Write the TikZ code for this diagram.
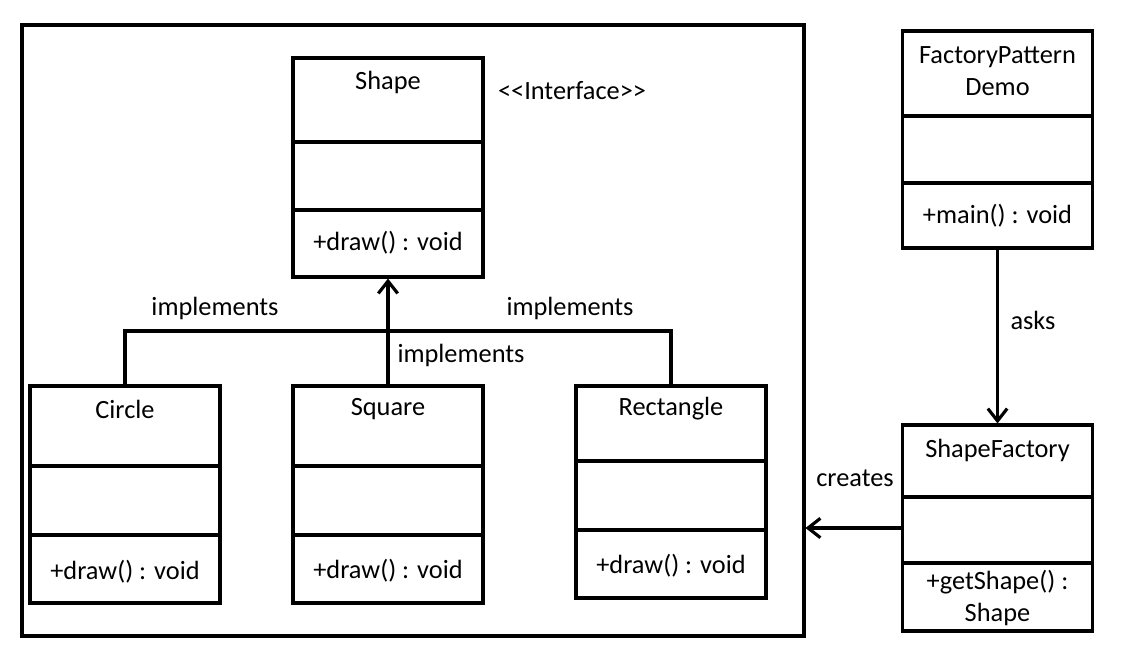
\documentclass[tikz,border=0pt]{standalone}
\usepackage{fontspec}
\setmainfont{Carlito}
\usepackage{tikz}
\usetikzlibrary{arrows.meta, positioning, calc}

\tikzset{
  umlbox/.style={draw, line width=1.8pt, inner sep=0pt, minimum width=3.8cm},
  lbl/.style={inner sep=0pt, font=\fontsize{15}{18}\selectfont},
  link/.style={line width=1.8pt},
  arr/.style={link, -{Straight Barb[length=7pt, width=11pt, line width=1.8pt]}}
}

\begin{document}
\begin{tikzpicture}[x=0.02cm, y=-0.02cm]
  \useasboundingbox (0,0) rectangle (1132,655);

  % outer frame
  \node[draw, line width=1.8pt, minimum width=15.64cm, minimum height=12.22cm] (frame) at (413,330.5) {};

  % classes
  \node[umlbox, minimum height=4.38cm] (shape) at (388,167.5) {};
  \node[umlbox, minimum height=4.34cm] (circ) at (125,494.5) {};
  \node[umlbox, minimum height=4.34cm] (sq) at (388,494.5) {};
  \node[umlbox, minimum height=4.24cm] (rect) at (671,492) {};
  \node[umlbox, minimum height=4.34cm] (demo) at (997.5,139.5) {};
  \node[umlbox, minimum height=4.12cm] (factory) at (997.5,528) {};

  % compartments
  \draw[link] (293,142) -- (483,142) (293,210) -- (483,210);
  \draw[link] (30,466) -- (220,466) (30,535) -- (220,535);
  \draw[link] (293,466) -- (483,466) (293,535) -- (483,535);
  \draw[link] (576,461) -- (766,461) (576,530) -- (766,530);
  \draw[link] (903,116) -- (1092,116) (903,183) -- (1092,183);
  \draw[link] (903,497) -- (1092,497) (903,563) -- (1092,563);

  % texts
  \node[lbl] (shapename) at (388,82) {Shape};
  \node[lbl] (iface) at (572,91) {<{}<Interface>{}>};
  \node[lbl] (shapeop) at (388,243) {+draw() : void};
  \node[lbl] (circname) at (125,409) {Circle};
  \node[lbl] (circop) at (125,572) {+draw() : void};
  \node[lbl] (sqname) at (388,409) {Square};
  \node[lbl] (sqop) at (388,571) {+draw() : void};
  \node[lbl] (rectname) at (671,409) {Rectangle};
  \node[lbl] (rectop) at (671,566) {+draw() : void};
  \node[lbl, align=center] (demoname) at (997.5,71) {FactoryPattern\\Demo};
  \node[lbl] (demoop) at (997.5,216) {+main() : void};
  \node[lbl] (factname) at (997.5,450) {ShapeFactory};
  \node[lbl, align=center] (factop) at (997.5,598) {+getShape() :\\Shape};

  % connectors
  \coordinate (bar) at (388,331);
  \draw[link] (circ.north) |- (bar) -| (rect.north);
  \draw[arr] (sq.north) -- (shape.south);
  \draw[arr] (demo.south) -- (factory.north);
  \draw[arr] (factory.west) -- (factory.west -| frame.east);

  \node[lbl] (impl1) at (215,308) {implements};
  \node[lbl] (impl2) at (570,308) {implements};
  \node[lbl] (impl3) at (461,355) {implements};
  \node[lbl] (asks) at (1033,320) {asks};
  \node[lbl] (creates) at (855,478) {creates};
\end{tikzpicture}
\end{document}
